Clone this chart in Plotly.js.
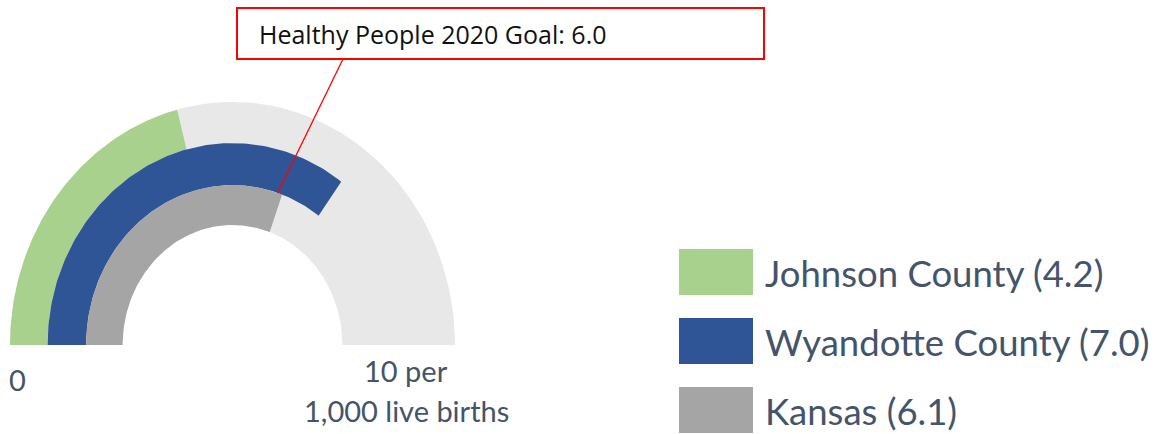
<!DOCTYPE html>
<html>
<head>
<meta charset="utf-8">
<script src="https://cdn.plot.ly/plotly-3.0.1.min.js"></script>
<style>
  html, body { margin: 0; padding: 0; background: #fff; }
  #chart { width: 1160px; height: 434px; }
</style>
</head>
<body>
<div id="chart"></div>
<script>
// infant mortality rate, per 1,000 live births
const names = ['Johnson County', 'Wyandotte County', 'Kansas'];
const rates = [4.2, 7.0, 6.1];
const colors = ['#A9D18E', '#2F5597', '#A5A5A5'];
const scaleMax = 10;
const goal = 6.0;
const goalLabel = 'Healthy People 2020 Goal: ' + goal.toFixed(1);

// ring radii (outer edge of gauge = 1)
const ringEdges = [1.0, 0.831, 0.658, 0.494];

// figure geometry in pixels
const W = 1160, H = 434;
const cx = 232.5, cy = 345;      // gauge centre
const sx = 222.5, sy = 243;      // px per radius unit (gauge is a little taller than wide)

function arc(v0, v1, rOut, rIn) {
  const xs = [], ys = [];
  const n = 120;
  for (let i = 0; i <= n; i++) {
    const a = Math.PI * (1 - (v0 + (v1 - v0) * i / n) / scaleMax);
    xs.push(rOut * Math.cos(a)); ys.push(rOut * Math.sin(a));
  }
  for (let i = n; i >= 0; i--) {
    const a = Math.PI * (1 - (v0 + (v1 - v0) * i / n) / scaleMax);
    xs.push(rIn * Math.cos(a)); ys.push(rIn * Math.sin(a));
  }
  return { xs, ys };
}

const traces = [];
const bg = arc(0, scaleMax, ringEdges[0], ringEdges[3]);
traces.push({ x: bg.xs, y: bg.ys, type: 'scatter', mode: 'lines', fill: 'toself',
  fillcolor: '#E8E8E8', line: { width: 0 }, hoverinfo: 'skip', showlegend: false });
rates.forEach((v, i) => {
  const a = arc(0, v, ringEdges[i], ringEdges[i + 1]);
  traces.push({ x: a.xs, y: a.ys, type: 'scatter', mode: 'lines', fill: 'toself',
    fillcolor: colors[i], line: { width: 0 }, name: names[i], showlegend: false });
});

// goal marker: on the boundary between blue and grey rings
const ga = Math.PI * (1 - goal / scaleMax);
const gx = ringEdges[2] * Math.cos(ga), gy = ringEdges[2] * Math.sin(ga);

const px = x => x / W;
const py = y => 1 - y / H;

const shapes = [
  { type: 'line', xref: 'x', yref: 'y', x0: gx, y0: gy,
    x1: (343 - cx) / sx, y1: (cy - 59) / sy, line: { color: '#FF0000', width: 1.3 } },
  { type: 'rect', xref: 'paper', yref: 'paper', x0: px(237), x1: px(764), y0: py(8), y1: py(59),
    line: { color: '#FF0000', width: 2 }, fillcolor: '#FFFFFF' }
];

const tickFont = { family: 'Lato', size: 29, color: '#44546A' };
const annotations = [
  { xref: 'paper', yref: 'paper', x: px(257), y: py(34), xanchor: 'left', yanchor: 'middle',
    text: goalLabel, showarrow: false, font: { family: 'Open Sans', size: 25, color: '#111' } },
  { xref: 'paper', yref: 'paper', x: px(7), y: py(379), xanchor: 'left', yanchor: 'middle',
    text: '0', showarrow: false, font: tickFont },
  { xref: 'paper', yref: 'paper', x: px(406), y: py(370), xanchor: 'center', yanchor: 'middle',
    text: scaleMax + ' per', showarrow: false, font: tickFont },
  { xref: 'paper', yref: 'paper', x: px(406), y: py(410), xanchor: 'center', yanchor: 'middle',
    text: '1,000 live births', showarrow: false, font: tickFont }
];

// legend drawn as large swatches
const legendTop = [249, 318, 387];
names.forEach((n, i) => {
  shapes.push({ type: 'rect', xref: 'paper', yref: 'paper', x0: px(679), x1: px(753),
    y0: py(legendTop[i]), y1: py(legendTop[i] + 46), line: { width: 0 }, fillcolor: colors[i] });
  annotations.push({ xref: 'paper', yref: 'paper', x: px(763), y: py(legendTop[i] + 24),
    xanchor: 'left', yanchor: 'middle', text: n + ' (' + rates[i].toFixed(1) + ')',
    showarrow: false, font: { family: 'Lato', size: 36.5, color: '#44546A' } });
});

const layout = {
  width: W, height: H,
  margin: { l: 0, r: 0, t: 0, b: 0 },
  paper_bgcolor: '#fff', plot_bgcolor: '#fff',
  showlegend: false,
  xaxis: { range: [-cx / sx, (W - cx) / sx], visible: false, fixedrange: true },
  yaxis: { range: [-(H - cy) / sy, cy / sy], visible: false, fixedrange: true },
  shapes, annotations
};

Plotly.newPlot('chart', traces, layout, { displayModeBar: false, staticPlot: true });
</script>
</body>
</html>
